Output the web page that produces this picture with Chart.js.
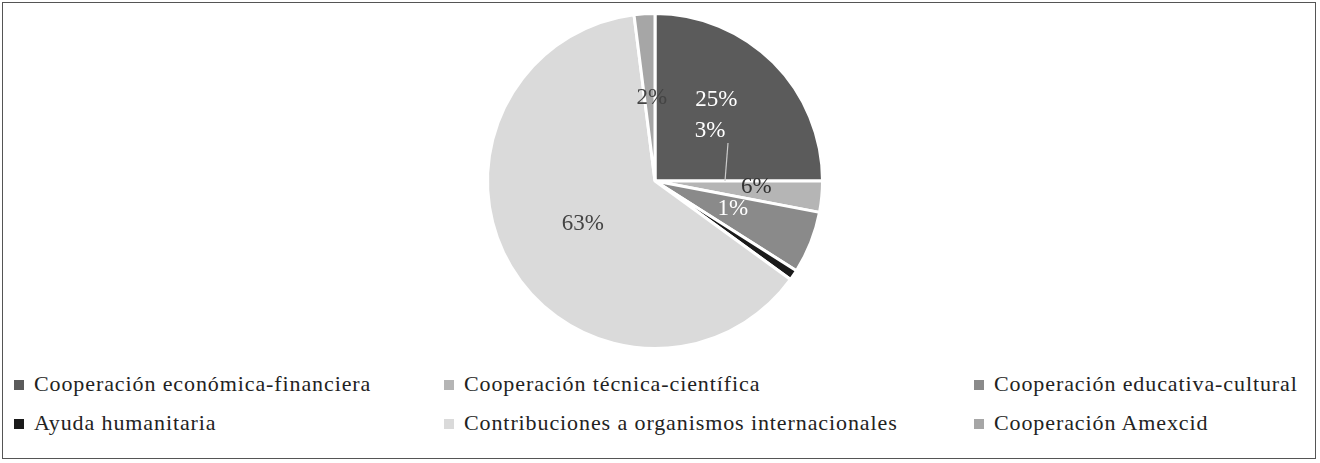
<!DOCTYPE html>
<html><head><meta charset="utf-8">
<script src="https://cdn.jsdelivr.net/npm/chart.js@4"></script>
<style>
body{margin:0;background:#fff;font-family:"Liberation Serif",serif;}
#frame{position:absolute;left:2px;top:2px;width:1314px;height:457px;border:1px solid #555;box-sizing:border-box;}
#cwrap{position:absolute;left:455px;top:8px;width:400px;height:346px;}
#legend{position:absolute;left:14px;top:371px;width:1300px;font-size:22px;letter-spacing:0.9px;color:#222;}
.li{position:absolute;white-space:nowrap;}
.sw{display:inline-block;width:10px;height:10px;margin-right:10px;vertical-align:1px;}
</style></head><body>
<div id="frame"></div>
<div id="cwrap"><canvas id="c"></canvas></div>
<div id="legend"></div>
<script>
const categories=["Cooperación económica-financiera","Cooperación técnica-científica","Cooperación educativa-cultural","Ayuda humanitaria","Contribuciones a organismos internacionales","Cooperación Amexcid"];
const values=[25,3,6,1,63,2];
const labels=["25%","6%","1%","","63%","2%"];
const colors=["#5b5b5b","#b5b5b5","#8a8a8a","#1a1a1a","#dadada","#a6a6a6"];
const labelColors=["#fff","#333","#fff","#333","#444","#444"];
const legendPos=[[0,0],[430,0],[960,0],[0,39],[430,39],[960,39]];
const lg=document.getElementById('legend');
categories.forEach((c,i)=>{const d=document.createElement('div');d.className='li';d.style.left=legendPos[i][0]+'px';d.style.top=legendPos[i][1]+'px';d.innerHTML='<span class="sw" style="background:'+colors[i]+'"></span>'+c;lg.appendChild(d);});
const lblPlugin={id:'lbl',afterDatasetsDraw(ch){const ctx=ch.ctx;const arcs=ch.getDatasetMeta(0).data;ctx.save();ctx.font='23px "Liberation Serif",serif';ctx.textAlign='center';ctx.textBaseline='middle';
const off=[[2,-22],[18,-2],[0,-3],[0,0],[0,0],[2,1]];
arcs.forEach((a,i)=>{if(!labels[i])return;const p=a.tooltipPosition();ctx.fillStyle=labelColors[i];ctx.fillText(labels[i],p.x+off[i][0],p.y+off[i][1]);});
const a=arcs[1];const cx=a.x,cy=a.y;ctx.fillStyle='#fff';ctx.fillText('3%',cx+55,cy-50);
ctx.strokeStyle='#ccc';ctx.lineWidth=1.2;ctx.beginPath();ctx.moveTo(cx+73,cy-38);ctx.lineTo(cx+70,cy);ctx.stroke();
ctx.restore();}};
new Chart(document.getElementById('c'),{type:'pie',data:{labels:categories,datasets:[{data:values,backgroundColor:colors,borderColor:'#fff',borderWidth:3}]},
options:{responsive:true,maintainAspectRatio:false,animation:false,layout:{padding:{top:4,bottom:4}},plugins:{legend:{display:false},tooltip:{enabled:false}}},plugins:[lblPlugin]});
</script></body></html>
